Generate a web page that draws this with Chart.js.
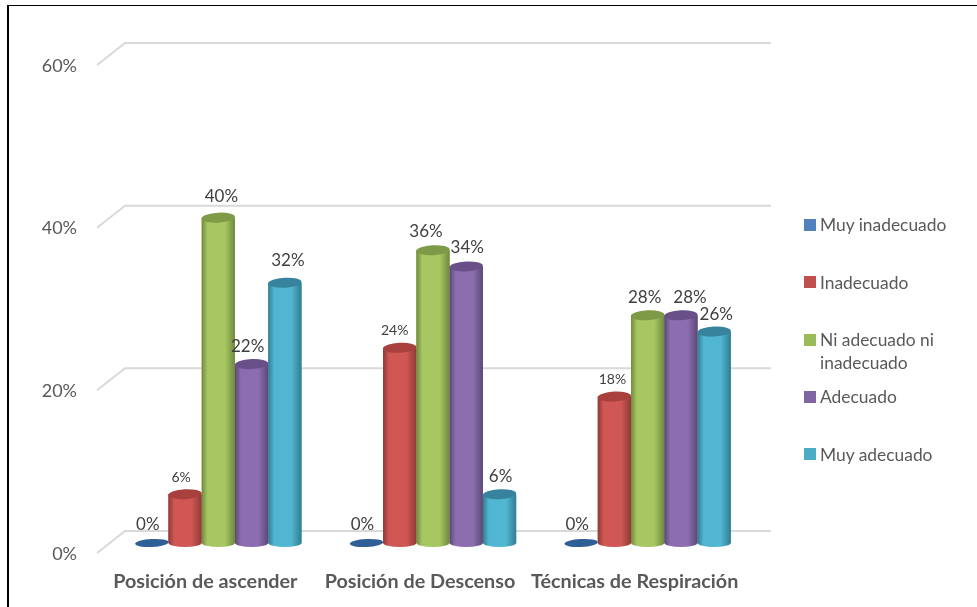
<!DOCTYPE html>
<html>
<head>
<meta charset="utf-8">
<script src="https://cdn.jsdelivr.net/npm/chart.js@4"></script>
<style>
    html, body { margin: 0; padding: 0; background: #fff; overflow: hidden; }
    #wrap { position: relative; width: 977px; height: 607px; font-family: Lato, sans-serif; }
    canvas { position: absolute; left: 0; top: 0; }
    #frame { position: absolute; left: 7px; top: 5px; right: 0; bottom: 0; border-left: 2px solid #000; border-top: 1px solid #000; }
    .legend-swatch { position: absolute; left: 804px; width: 12px; height: 12px; }
    .legend-text { position: absolute; left: 820px; color: #595959; font-size: 17.4px; line-height: 23px; }
</style>
</head>
<body>
<div id="wrap">
    <canvas id="chart" width="977" height="607"></canvas>
    <div id="frame"></div>
</div>
<script>
const categories = ['Posición de ascender', 'Posición de Descenso', 'Técnicas de Respiración'];
const seriesNames = ['Muy inadecuado', 'Inadecuado', 'Ni adecuado ni inadecuado', 'Adecuado', 'Muy adecuado'];
const muyInadecuado = [0, 0, 0];
const inadecuado = [6, 24, 18];
const niAdecuado = [40, 36, 28];
const adecuado = [22, 34, 28];
const muyAdecuado = [32, 6, 26];
const yTicks = [0, 20, 40, 60];

// base, light, dark, top ellipse
const colors = [
    ['#4f81bd', '#5a8ecb', '#3a6494', '#2f5f96'],
    ['#c0504d', '#d05753', '#8f3a38', '#a8413e'],
    ['#9bbb59', '#a6c762', '#71893f', '#7f9a47'],
    ['#8064a2', '#8c6eb0', '#5d4877', '#6a5089'],
    ['#4bacc6', '#50b6d2', '#337c91', '#37829c']
];
// data label nudges, per series then category
const labelDx = [[-4, -4, -4], [-4, -5, -2], [3, -7, -3], [-4, 1, 9], [3, 1, 2]];
const labelDy = [[-18, -18, -18], [-17, -17, -17], [-21, -19, -18], [-18, -19, -18], [-22, -18, -17]];
const labelSize = [17, 14, 17, 17, 17];

// back wall lines with the diagonal running to the front edge
const wallGrid = {
    id: 'wallGrid',
    beforeDatasetsDraw(chart) {
        const { ctx, chartArea: a, scales: { y } } = chart;
        ctx.save();
        ctx.strokeStyle = '#d9d9d9';
        ctx.lineWidth = 2;
        yTicks.forEach(v => {
            const py = y.getPixelForValue(v);
            ctx.beginPath();
            ctx.moveTo(a.left - 14, py + 10);
            ctx.lineTo(a.left + 14, py - 12);
            ctx.lineTo(a.right + 16, py - 12);
            ctx.stroke();
        });
        ctx.restore();
    }
};

// turns the flat bars into cylinders and writes the value labels
const cylinders = {
    id: 'cylinders',
    afterDatasetsDraw(chart) {
        const ctx = chart.ctx;
        chart.data.datasets.forEach((ds, si) => {
            const c = colors[si];
            chart.getDatasetMeta(si).data.forEach((bar, i) => {
                const rx = bar.width / 2, left = bar.x - rx, right = bar.x + rx;
                ctx.save();
                if (ds.data[i] > 0) {
                    const g = ctx.createLinearGradient(left, 0, right, 0);
                    g.addColorStop(0, c[2]);
                    g.addColorStop(0.18, c[1]);
                    g.addColorStop(0.7, c[1]);
                    g.addColorStop(1, c[2]);
                    ctx.fillStyle = g;
                    ctx.beginPath();
                    ctx.moveTo(left, bar.y);
                    ctx.lineTo(left, bar.base);
                    ctx.ellipse(bar.x, bar.base, rx, 4, 0, Math.PI, 0, true);
                    ctx.lineTo(right, bar.y);
                    ctx.closePath();
                    ctx.fill();
                }
                ctx.fillStyle = c[3];
                ctx.beginPath();
                ctx.ellipse(bar.x, bar.y, rx, ds.data[i] > 0 ? 5 : 4, -0.05, 0, Math.PI * 2);
                ctx.fill();
                ctx.fillStyle = '#404040';
                ctx.font = labelSize[si] + 'px Lato';
                ctx.textAlign = 'center';
                ctx.textBaseline = 'middle';
                ctx.fillText(ds.data[i] + '%', bar.x + labelDx[si][i], bar.y + labelDy[si][i]);
                ctx.restore();
            });
        });
    }
};

const seriesValues = [muyInadecuado, inadecuado, niAdecuado, adecuado, muyAdecuado];

new Chart(document.getElementById('chart'), {
    type: 'bar',
    data: {
        labels: categories,
        datasets: seriesNames.map((name, i) => ({
            label: name,
            data: seriesValues[i],
            backgroundColor: colors[i][0],
            borderWidth: 0
        }))
    },
    options: {
        responsive: false,
        animation: false,
        categoryPercentage: 0.775,
        barPercentage: 1,
        layout: { padding: { left: 0, right: 222, top: 55, bottom: 0 } },
        plugins: { legend: { display: false }, tooltip: { enabled: false } },
        scales: {
            x: {
                grid: { display: false },
                border: { display: false },
                afterFit: s => { s.height = 64; },
                ticks: {
                    color: '#595959',
                    font: { family: 'Lato', size: 19.8, weight: 'bold' },
                    labelOffset: -13,
                    padding: 19,
                    maxRotation: 0,
                    autoSkip: false
                }
            },
            y: {
                min: 0,
                max: 60,
                grid: { display: false },
                border: { display: false },
                afterFit: s => { s.width = 111; },
                afterBuildTicks: s => { s.ticks = yTicks.map(v => ({ value: v })); },
                ticks: {
                    color: '#595959',
                    font: { family: 'Lato', size: 18 },
                    padding: 26,
                    labelOffset: 11,
                    callback: v => v + '%'
                }
            }
        }
    },
    plugins: [wallGrid, cylinders]
});

// legend rows keep the wide gaps of the original
const wrap = document.getElementById('wrap');
const legendRows = [
    { lines: ['Muy inadecuado'], swatchTop: 219, textTop: 213 },
    { lines: ['Inadecuado'], swatchTop: 276, textTop: 271 },
    { lines: ['Ni adecuado ni', 'inadecuado'], swatchTop: 334, textTop: 328 },
    { lines: ['Adecuado'], swatchTop: 391, textTop: 385 },
    { lines: ['Muy adecuado'], swatchTop: 448, textTop: 443 }
];
legendRows.forEach((row, i) => {
    const sw = document.createElement('div');
    sw.className = 'legend-swatch';
    sw.style.top = row.swatchTop + 'px';
    sw.style.background = colors[i][0];
    wrap.appendChild(sw);
    const txt = document.createElement('div');
    txt.className = 'legend-text';
    txt.style.top = row.textTop + 'px';
    txt.innerHTML = row.lines.join('<br>');
    wrap.appendChild(txt);
});
</script>
</body>
</html>
